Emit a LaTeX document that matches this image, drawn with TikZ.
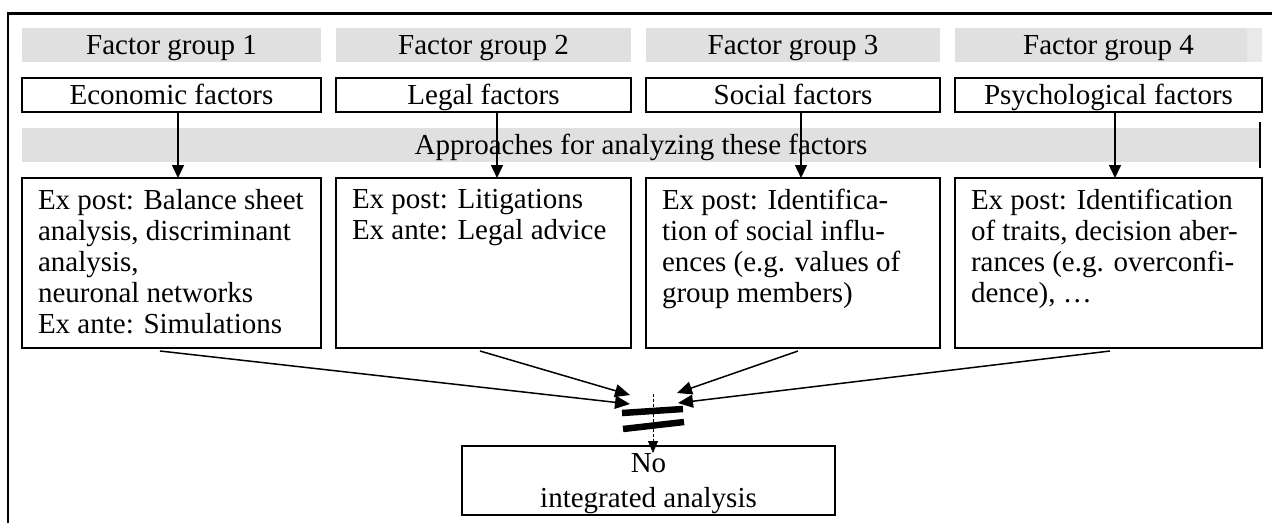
\documentclass[tikz,border=0pt]{standalone}
\usepackage{fontspec}
\setmainfont{Liberation Serif}
\usetikzlibrary{arrows.meta,calc}
\definecolor{bargray}{HTML}{E0E0E0}
\definecolor{barpale}{HTML}{E9E9E9}
\begin{document}
\begin{tikzpicture}[x=1pt,y=-1pt,
  every node/.style={inner sep=0pt,outer sep=0pt},
  lbl/.style={font=\fontsize{29}{31}\selectfont, text height=23pt, text depth=5pt},
  band/.style={lbl, rectangle, fill=bargray, anchor=north west, minimum height=34pt},
  framed/.style={lbl, rectangle, draw, line width=2pt, anchor=north west, minimum height=34pt},
  method/.style={rectangle, draw, line width=2pt, anchor=north west, minimum height=170pt},
  body/.style={font=\fontsize{29}{31}\selectfont, align=left, anchor=north west},
  down/.style={line width=1.5pt, -{Triangle[length=13pt,width=12pt]}},
  merge/.style={line width=1.5pt, -{Triangle[length=15pt,width=13pt]}},
]
\useasboundingbox (0,0) rectangle (1274,523);

% outer frame: top and left rules
\draw[line width=2.6pt] (8,523) -- (8,13.5) -- (1272,13.5);

% factor group headers
\node[band, minimum width=299pt] (g1) at (22,28)  {Factor group 1};
\node[band, minimum width=295pt] (g2) at (336,28) {Factor group 2};
\node[band, minimum width=294pt] (g3) at (646,28) {Factor group 3};
\node[band, minimum width=307pt] (g4) at (955,28) {Factor group 4};
\fill[barpale] (1247,28) rectangle (1262,62);

% factor boxes
\node[framed, minimum width=299pt] (f1) at (22,78)  {Economic factors};
\node[framed, minimum width=295pt] (f2) at (336,78) {Legal factors};
\node[framed, minimum width=294pt] (f3) at (646,78) {Social factors};
\node[framed, minimum width=307pt] (f4) at (955,78) {Psychological factors};

% approaches band
\node[band, minimum width=1238pt] (ap) at (22,128) {Approaches for analyzing these factors};
\draw[line width=2pt] (1260,122) -- (1260,168);

% method boxes
\node[method, minimum width=299pt] (a1) at (22,178)  {};
\node[method, minimum width=295pt] (a2) at (336,178) {};
\node[method, minimum width=294pt] (a3) at (646,178) {};
\node[method, minimum width=307pt] (a4) at (955,178) {};

\node[body] (a1t) at ($(a1.north west)+(16,11)$) {Ex post: Balance sheet\\analysis, discriminant\\analysis,\\neuronal networks\\Ex ante: Simulations};
\node[body] (a2t) at ($(a2.north west)+(16,11)$) {Ex post: Litigations\\Ex ante: Legal advice};
\node[body] (a3t) at ($(a3.north west)+(16,11)$) {Ex post: Identifica-\\tion of social influ-\\ences (e.g. values of\\group members)};
\node[body] (a4t) at ($(a4.north west)+(16,11)$) {Ex post: Identification\\of traits, decision aber-\\rances (e.g. overconfi-\\dence), …};

% arrows from factors to approaches
\draw[down] ([xshift=6.5pt]f1.south) -- ([xshift=6.5pt]a1.north);
\draw[down] ([xshift=13.5pt]f2.south) -- ([xshift=13.5pt]a2.north);
\draw[down] ([xshift=8pt]f3.south) -- ([xshift=8pt]a3.north);
\draw[down] ([xshift=6.5pt]f4.south) -- ([xshift=6.5pt]a4.north);

% result box
\node[rectangle, draw, line width=2pt, minimum width=373pt, minimum height=69pt] (res) at (648.5,480.5) {};
\node[align=center, font=\fontsize{29}{35}\selectfont] (resl) at ([yshift=-3.5pt]res.center) {No\\integrated analysis};

% converging arrows
\coordinate (m1) at (630,404);
\coordinate (m2) at (630,395);
\coordinate (m3) at (677,393);
\coordinate (m4) at (678,403);
\draw[merge] ([xshift=-11.5pt,yshift=-3pt]a1.south) -- (m1);
\draw[merge] ([xshift=-3.5pt,yshift=-3pt]a2.south) -- (m2);
\draw[merge] ([xshift=5pt,yshift=-3pt]a3.south) -- (m3);
\draw[merge] ([xshift=1.5pt,yshift=-3pt]a4.south) -- (m4);

% "not equal" bars
\draw[line width=6.5pt] (622,413) -- (683,409);
\draw[line width=6.5pt] (623,429) -- (684,422);

% dashed link to the result
\coordinate (d0) at (653,394);
\draw[line width=0.8pt, dash pattern=on 3pt off 2pt, -{Triangle[length=12pt,width=10pt]}]
  (d0) -- ([xshift=4.5pt,yshift=-7pt]res.north);
\end{tikzpicture}
\end{document}
